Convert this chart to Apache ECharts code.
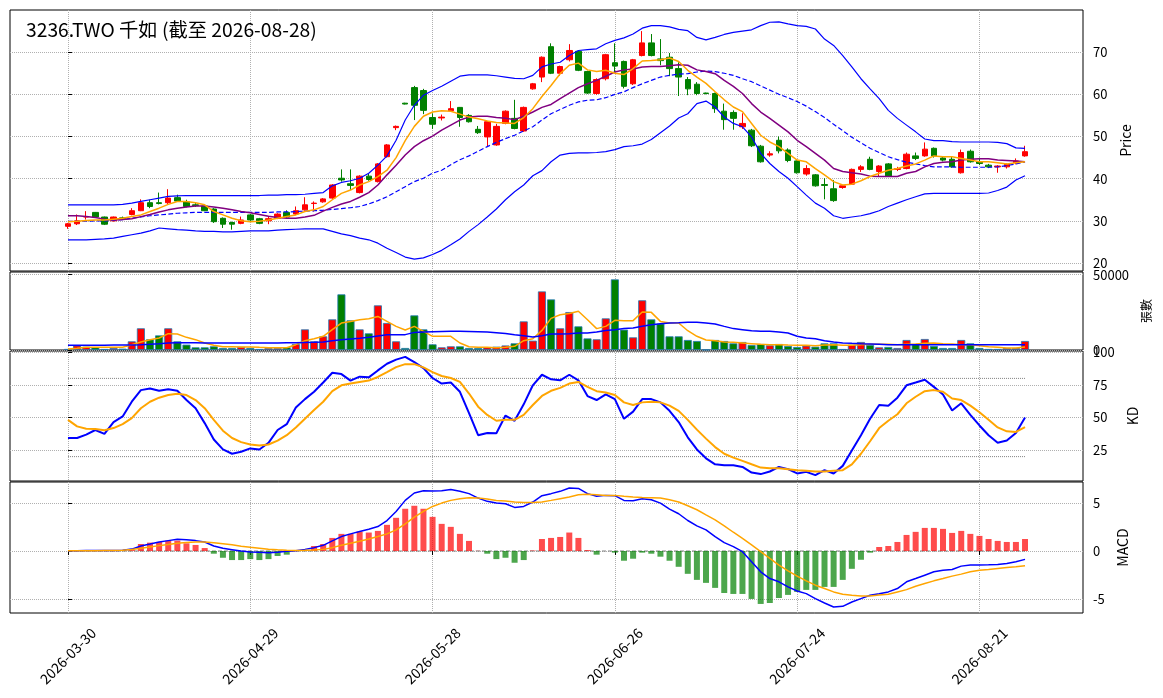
<!DOCTYPE html>
<html>
<head>
<meta charset="utf-8">
<script src="https://cdn.jsdelivr.net/npm/echarts@6/dist/echarts.min.js"></script>
<style>html,body{margin:0;padding:0;background:#fff}#c{width:1163px;height:698px}</style>
</head>
<body>
<div id="c"></div>
<script>
const dates = [
'2026-03-30','2026-03-31','2026-04-01','2026-04-02','2026-04-07','2026-04-08','2026-04-09','2026-04-10','2026-04-13','2026-04-14',
'2026-04-15','2026-04-16','2026-04-17','2026-04-20','2026-04-21','2026-04-22','2026-04-23','2026-04-24','2026-04-27','2026-04-28',
'2026-04-29','2026-04-30','2026-05-04','2026-05-05','2026-05-06','2026-05-07','2026-05-08','2026-05-11','2026-05-12','2026-05-13',
'2026-05-14','2026-05-15','2026-05-18','2026-05-19','2026-05-20','2026-05-21','2026-05-22','2026-05-25','2026-05-26','2026-05-27',
'2026-05-28','2026-05-29','2026-06-01','2026-06-02','2026-06-03','2026-06-04','2026-06-05','2026-06-08','2026-06-09','2026-06-10',
'2026-06-11','2026-06-12','2026-06-15','2026-06-16','2026-06-17','2026-06-18','2026-06-22','2026-06-23','2026-06-24','2026-06-25',
'2026-06-26','2026-06-29','2026-06-30','2026-07-01','2026-07-02','2026-07-03','2026-07-06','2026-07-07','2026-07-08','2026-07-09',
'2026-07-10','2026-07-13','2026-07-14','2026-07-15','2026-07-16','2026-07-17','2026-07-20','2026-07-21','2026-07-22','2026-07-23',
'2026-07-24','2026-07-27','2026-07-28','2026-07-29','2026-07-30','2026-07-31','2026-08-03','2026-08-04','2026-08-05','2026-08-06',
'2026-08-07','2026-08-10','2026-08-11','2026-08-12','2026-08-13','2026-08-14','2026-08-17','2026-08-18','2026-08-19','2026-08-20',
'2026-08-21','2026-08-24','2026-08-25','2026-08-26','2026-08-27','2026-08-28'];

const openP = [
28.7,29.3,30.9,32.0,30.9,30.0,30.7,31.5,32.4,34.3,
34.3,34.3,35.5,34.5,33.8,33.5,32.8,30.6,29.6,29.4,
31.4,30.5,30.0,30.6,32.0,31.6,32.6,34.1,34.5,35.4,
40.1,38.8,36.7,40.6,39.3,45.2,52.1,57.9,61.6,60.9,
54.5,54.4,56.1,56.9,55.0,51.7,49.9,48.0,53.1,54.3,
51.3,61.3,64.1,71.3,65.0,68.2,70.2,65.4,60.2,63.7,
67.5,67.8,62.5,69.2,72.2,68.4,68.8,66.1,63.5,62.4,
60.3,60.2,56.0,55.7,52.3,51.5,47.7,45.6,49.1,46.8,
44.2,41.1,40.9,38.6,37.6,37.9,38.7,42.2,44.6,41.7,
43.5,42.2,42.4,45.4,45.4,47.2,44.9,44.6,41.4,46.5,
44.0,43.2,42.8,42.8,43.8,45.4];
const closeP = [
29.3,30.0,31.0,30.9,29.2,30.9,30.5,32.4,34.3,33.4,
34.1,35.4,34.7,33.4,33.6,32.4,29.8,29.2,29.2,30.2,
30.2,29.4,30.5,31.6,30.9,32.4,33.8,34.2,35.2,38.5,
39.7,38.4,40.6,39.8,43.5,48.0,52.4,57.7,57.4,56.2,
52.9,54.6,56.6,54.5,53.5,50.9,53.5,52.4,56.0,51.9,
56.9,62.5,68.8,65.0,66.6,70.4,65.7,60.3,63.5,69.4,
66.7,61.9,68.2,72.2,69.2,68.0,66.1,64.1,61.3,60.2,
60.2,56.6,54.0,54.3,53.1,47.8,44.0,45.9,46.6,44.3,
41.4,42.4,38.3,38.4,34.8,38.3,42.2,42.8,42.2,43.0,
40.6,42.4,45.8,44.8,47.0,45.4,44.4,42.8,46.2,44.0,
43.6,42.8,43.0,43.4,44.2,46.4];
const lowP = [
28.1,29.0,30.3,30.7,29.0,29.8,30.2,31.3,32.3,33.0,
33.9,34.0,34.5,33.2,33.3,32.3,29.5,28.3,27.9,29.2,
30.0,29.2,29.2,30.4,30.7,31.4,32.4,32.2,34.3,35.2,
39.3,37.3,36.5,39.5,39.1,45.0,51.5,57.6,53.9,55.3,
51.8,53.8,55.9,52.3,53.3,50.6,47.6,47.8,52.9,51.7,
51.1,61.1,62.9,64.8,64.4,67.8,65.5,60.1,59.9,63.3,
65.2,61.4,62.2,69.0,69.0,66.9,64.3,59.6,59.8,59.8,
60.0,55.6,51.6,51.6,51.8,47.5,43.8,45.2,46.0,43.9,
41.2,40.7,38.1,35.1,34.5,37.6,38.5,41.6,42.0,40.5,
40.4,41.8,42.2,44.4,45.2,45.0,44.1,42.6,41.2,43.8,
43.2,42.5,41.4,42.4,43.4,45.2];
const highP = [
29.5,31.5,32.3,32.1,31.0,31.0,31.0,33.0,35.1,35.0,
36.7,37.5,36.2,35.0,34.2,33.6,33.0,30.8,29.8,31.0,
31.6,30.7,30.9,31.8,32.5,33.4,35.6,34.6,35.4,38.7,
42.2,42.2,40.8,41.2,43.7,48.2,52.6,58.0,62.0,61.3,
55.5,55.2,58.4,57.0,55.3,52.5,53.7,53.0,56.2,58.7,
57.1,62.7,69.0,72.1,66.8,71.9,70.5,65.6,63.8,69.6,
72.1,68.0,68.4,75.0,74.3,73.1,69.8,67.6,64.1,62.9,
60.4,60.4,57.8,56.2,55.5,51.8,48.0,46.5,50.0,47.2,
44.4,43.2,41.1,40.1,39.7,38.5,42.4,43.2,45.2,43.2,
43.7,42.8,46.2,46.2,48.6,47.4,45.3,45.2,46.9,46.9,
45.0,43.5,43.2,43.6,44.8,47.8];

const ma5 = [
29.8,29.9,30.1,30.2,30.2,30.4,30.6,31.0,31.4,32.2,
33.0,33.9,34.6,34.6,34.3,33.8,32.2,31.4,30.6,30.0,
29.8,29.9,30.2,30.6,31.0,31.4,32.2,32.6,33.4,35.0,
36.5,37.3,38.5,39.3,40.5,42.0,45.0,49.0,52.4,54.8,
55.8,56.1,56.0,55.3,54.6,54.2,53.7,53.3,53.2,53.1,
54.5,56.6,59.5,62.1,64.9,66.9,67.4,65.8,65.4,65.7,
65.0,64.7,66.1,67.9,68.0,68.2,68.6,67.8,65.7,64.1,
62.6,60.6,58.7,57.0,55.9,53.1,50.3,48.7,47.6,46.0,
44.4,44.0,42.4,40.9,39.3,38.5,38.7,39.5,40.5,41.3,
42.0,42.4,43.0,43.5,44.4,45.4,45.2,45.2,44.8,44.4,
44.0,44.0,43.8,43.5,43.8,44.0];
const ma10 = [
31.2,31.2,31.0,30.8,30.4,30.2,30.3,30.5,31.0,31.5,
32.1,32.6,33.0,33.3,33.5,33.5,33.3,33.0,32.6,32.2,
31.9,31.5,31.1,30.8,30.6,30.6,30.9,31.3,32.3,33.2,
34.0,34.6,35.6,36.7,38.5,40.9,43.2,45.6,47.6,49.0,
50.1,51.5,52.7,53.9,54.6,54.8,54.8,54.5,54.3,54.0,
54.8,55.8,56.9,57.6,59.0,60.3,61.6,62.5,63.3,64.3,
65.3,65.8,66.0,66.5,66.6,66.6,66.8,67.0,66.9,65.8,
65.4,64.9,63.3,61.9,60.2,57.8,55.8,54.3,52.7,51.1,
49.1,47.6,46.0,44.4,42.4,41.7,41.4,41.1,40.6,40.5,
40.5,40.5,41.3,41.7,42.8,43.6,43.9,44.0,44.4,44.6,
44.7,44.7,44.4,44.3,44.2,44.0];
const bbUpper = [
33.8,33.8,33.8,33.8,33.8,33.8,33.9,34.2,34.6,35.0,
35.4,35.8,35.9,36.0,36.0,36.0,36.0,36.0,36.0,36.0,
36.0,36.0,36.1,36.1,36.2,36.2,36.3,36.5,36.7,38.3,
39.1,39.5,40.1,41.3,43.2,45.4,49.1,53.9,57.4,59.8,
60.9,61.9,63.1,64.3,64.6,64.6,64.6,64.4,64.1,63.8,
63.7,64.5,66.5,67.2,67.6,69.2,70.4,70.6,70.8,72.0,
72.8,73.4,74.3,75.7,76.3,76.3,76.0,75.4,75.1,73.5,
72.9,73.5,74.2,74.7,75.0,75.3,76.3,77.1,77.2,76.7,
76.3,76.1,75.5,73.1,71.6,69.2,66.5,63.7,61.3,59.0,
56.2,54.3,52.7,51.1,49.4,49.0,49.0,48.8,48.7,48.7,
48.7,48.7,48.6,48.3,47.3,47.2];
const bbMid = [
29.9,29.9,29.9,30.0,30.0,30.1,30.3,30.6,30.9,31.2,
31.4,31.6,31.8,31.9,32.0,32.0,32.0,32.0,32.0,32.0,
32.0,32.0,32.0,32.1,32.1,32.2,32.3,32.4,32.5,32.7,
32.9,33.1,33.4,34.0,34.8,35.7,36.9,38.1,39.3,40.1,
41.3,42.0,43.3,44.5,45.4,46.5,47.6,48.6,49.5,50.3,
51.3,52.3,53.9,55.4,56.4,57.4,58.2,58.6,58.7,59.2,
60.0,60.6,61.6,62.5,63.3,64.1,64.5,64.8,64.9,65.3,
65.5,65.4,65.0,64.5,63.7,63.0,62.0,61.0,60.0,59.2,
58.3,57.2,55.9,54.5,52.9,51.4,49.8,48.5,47.2,46.2,
45.2,44.5,43.9,43.5,43.1,42.8,42.8,42.8,42.7,42.7,
42.7,42.7,42.8,43.1,43.5,44.0];
const bbLower = [
25.5,25.5,25.5,25.6,25.7,25.9,26.3,26.7,27.1,27.6,
28.3,28.1,27.9,27.8,27.6,27.5,27.5,27.4,27.4,27.5,
27.6,27.6,27.6,27.8,27.9,28.0,28.1,28.1,28.1,27.5,
26.9,26.5,25.9,25.5,24.7,23.5,22.5,21.4,20.9,21.2,
22.0,23.0,24.3,25.7,27.5,29.1,30.9,32.8,35.0,36.9,
38.5,40.7,41.9,44.0,45.6,46.0,46.1,46.1,46.2,46.4,
46.9,47.6,47.8,48.2,49.3,50.9,52.5,54.4,55.4,57.8,
58.4,57.0,54.6,53.1,52.3,49.9,46.0,43.6,41.7,40.1,
38.1,36.1,34.2,33.0,31.2,30.6,30.9,31.2,31.7,32.4,
33.4,34.2,35.0,35.7,36.4,36.5,36.5,36.5,36.5,36.5,
36.5,36.6,37.2,38.0,39.7,40.7];

const volume = [
700,3000,2200,1800,660,1300,900,5750,14400,7100,
9700,14400,5750,3540,1770,1770,2430,1330,1330,2000,
1330,660,1330,1330,1770,3980,13700,5750,9070,20350,
36950,19700,13700,11060,29650,17900,5750,1330,23000,13700,
3760,1770,2430,2430,1330,1330,1770,2200,3000,4420,
19000,6200,38900,33600,14400,25200,15700,7700,7100,21000,
46900,13500,8400,33000,20350,17500,9070,9070,6640,5970,
200,6640,5970,4420,5300,3300,3980,3100,3980,2650,
2000,2870,2200,4420,4420,660,3540,5300,3300,1770,
2000,1330,6640,3980,7300,2650,1330,1330,6640,4420,
1330,660,660,1330,1330,5970];
const volMa5 = [
660,1200,1770,1770,1770,1770,1770,3540,5300,6860,
7960,10840,10620,8400,6860,4650,3100,2200,2200,2000,
2000,1770,1550,1550,1550,3540,6200,7500,9070,13500,
17900,19000,20100,20800,22300,19000,15700,13300,15700,12400,
9070,9070,9070,4650,2200,1770,1770,1550,1770,2430,
6200,7500,13000,21000,23400,24300,25700,20100,14200,15700,
19700,19500,19500,25200,25000,19000,17900,17900,12800,9100,
6600,6200,5300,5100,4650,4200,3760,3540,3540,3300,
3100,3100,2880,3300,3540,3100,3100,3540,3760,3760,
3760,3540,3760,3980,4420,4650,4200,3980,3540,3540,
2880,2200,1770,1330,1330,2000];
const volMa20 = [
3100,3100,3100,3150,3200,3300,3300,3400,3540,3800,
4200,4650,4800,4800,4750,4650,4650,4650,4650,4650,
4650,4650,4650,4700,4800,4870,5000,5100,5300,6200,
6800,7300,7800,8400,9300,10200,10200,10200,11700,12000,
12200,12300,12400,12400,12300,12200,11950,11500,11000,10200,
9500,8630,9500,10600,10600,10800,11300,11300,11900,13000,
13500,14200,14600,15700,16800,17500,17900,18100,18400,18400,
17900,17300,15700,14200,13500,12800,12400,12400,11900,11300,
9100,8000,7500,6200,5300,4650,4420,4200,4000,3760,
3540,3540,3540,3540,3540,3540,3540,3540,3540,3540,
3540,3540,3540,3540,3540,3540];

const kLine = [
34.3,34.3,36.9,40.4,37.4,46.5,50.8,62.1,71.0,72.2,
70.5,71.7,70.5,63.4,57.1,45.7,33.1,25.5,22.2,23.7,
26.3,25.5,30.6,40.4,44.9,57.6,64.1,69.7,76.8,84.3,
83.3,78.3,81.3,80.8,86.1,91.2,94.4,96.5,92.4,87.9,
80.3,76.0,76.8,69.7,53.3,36.4,38.1,37.9,51.5,47.5,
60.1,74.7,82.8,79.3,78.5,82.8,78.5,66.4,63.4,67.7,
64.1,49.0,54.5,64.1,64.1,61.6,55.1,46.5,34.8,25.5,
18.7,14.1,13.4,13.4,12.1,7.8,6.6,8.6,12.1,10.4,
7.1,8.3,5.8,9.6,7.1,12.9,24.7,36.4,49.0,59.6,
59.1,65.2,74.7,76.8,79.0,73.5,67.7,55.3,60.9,52.0,
43.9,36.4,30.6,32.3,38.1,50.0];
const dLine = [
48.2,43.2,41.4,41.2,40.2,41.9,44.9,49.5,57.1,62.1,
65.2,67.2,68.2,67.2,63.4,57.1,48.2,39.9,34.3,31.1,
29.3,28.5,29.3,32.3,36.4,42.4,49.0,55.8,62.1,70.2,
74.7,76.0,77.3,78.3,81.1,84.8,88.6,90.9,90.9,88.4,
84.8,81.8,80.3,77.3,68.4,58.3,52.0,47.5,48.2,48.2,
52.0,59.6,66.5,70.5,72.7,76.0,77.3,73.5,70.2,69.2,
67.2,61.6,59.6,61.6,62.1,61.6,59.1,55.1,48.2,40.7,
33.8,27.3,22.2,19.2,16.7,14.1,11.6,11.1,11.1,10.4,
9.6,9.1,8.6,8.6,9.1,9.6,14.1,22.2,31.8,41.9,
47.5,52.5,60.9,65.9,70.2,71.0,69.7,64.6,63.4,59.1,
54.0,48.2,42.4,39.4,38.9,42.7];

const dif = [
0.03,0.04,0.05,0.05,0.05,0.05,0.08,0.2,0.52,0.72,
0.94,1.08,1.22,1.18,1.08,0.94,0.52,0.28,0.14,0.0,
-0.1,-0.14,-0.17,-0.14,-0.03,0.03,0.17,0.35,0.59,1.05,
1.5,1.78,2.02,2.26,2.54,3.17,4.11,5.26,6.03,6.27,
6.24,6.27,6.38,6.2,5.96,5.5,5.16,4.98,4.91,4.53,
4.63,5.09,5.75,5.96,6.2,6.55,6.5,5.96,5.68,5.78,
5.75,5.26,5.23,5.44,5.33,4.98,4.36,3.87,3.17,2.61,
2.2,1.5,0.87,0.45,-0.07,-1.11,-2.16,-2.86,-3.2,-3.73,
-4.15,-4.43,-4.95,-5.4,-5.82,-5.75,-5.3,-4.95,-4.6,-4.43,
-4.25,-3.9,-3.2,-2.86,-2.51,-2.16,-1.99,-1.92,-1.57,-1.46,
-1.46,-1.43,-1.39,-1.29,-1.11,-0.87];
const dea = [
0.03,0.03,0.04,0.04,0.05,0.06,0.08,0.15,0.28,0.42,
0.56,0.68,0.8,0.88,0.93,0.94,0.85,0.75,0.64,0.5,
0.38,0.28,0.18,0.12,0.07,0.05,0.07,0.1,0.17,0.35,
0.6,0.8,1.01,1.25,1.5,1.78,2.19,2.82,3.52,4.11,
4.63,4.98,5.26,5.43,5.54,5.5,5.4,5.26,5.19,5.09,
5.05,5.05,5.1,5.26,5.44,5.61,5.85,5.89,5.85,5.78,
5.78,5.68,5.61,5.57,5.54,5.5,5.33,5.09,4.7,4.29,
3.76,3.24,2.61,1.95,1.32,0.63,-0.07,-0.77,-1.46,-2.06,
-2.61,-3.1,-3.55,-3.9,-4.25,-4.5,-4.6,-4.67,-4.67,-4.56,
-4.5,-4.25,-4.01,-3.66,-3.38,-3.1,-2.86,-2.61,-2.4,-2.16,
-1.99,-1.92,-1.81,-1.71,-1.64,-1.53];
const macdHist = [
0.0,0.01,0.01,0.01,0.0,0.0,0.02,0.1,0.73,0.87,
0.94,1.08,1.08,0.8,0.63,0.31,-0.28,-0.70,-0.94,-0.94,
-0.84,-0.94,-0.84,-0.52,-0.38,0.05,0.1,0.52,0.73,1.36,
1.78,1.78,2.02,1.92,2.09,2.72,3.45,4.39,4.70,4.39,
3.55,2.82,2.51,1.78,1.05,0.02,-0.28,-0.84,-0.70,-1.22,
-0.94,0.05,1.25,1.36,1.46,1.92,1.36,0.1,-0.38,0.0,
-0.17,-1.01,-0.80,-0.17,-0.28,-0.59,-1.01,-1.64,-2.37,-3.0,
-3.31,-3.83,-4.36,-4.46,-4.46,-4.98,-5.5,-5.4,-4.88,-4.56,
-4.25,-4.04,-4.04,-3.73,-3.73,-3.0,-1.85,-0.91,-0.17,0.42,
0.52,0.94,1.67,1.99,2.40,2.40,2.30,1.88,2.09,1.78,
1.57,1.25,1.05,0.94,0.94,1.25];

const xTickIdx = [0, 20, 40, 60, 80, 100];
const priceTicks = [20, 30, 40, 50, 60, 70];
const volTicks = [0, 50000];
const kdTicks = [25, 50, 75, 100];
const kdRefLevels = [20, 80];
const macdTicks = [-5, 0, 5];
const titleText = '3236.TWO 千如 (截至 2026-08-28)';

const N = dates.length;
const XPAD = 6.36;
const FONT = "'Noto Sans CJK TC','Noto Sans',sans-serif";
const RED = '#ff0000', GREEN = '#008000';
const pairs = arr => arr.map((v, i) => [i, v]);
const gridLine = { show: true, lineStyle: { color: '#b0b0b0', type: 'dotted', width: 1 } };

function mkX(g, bottom) {
  return {
    type: 'value', gridIndex: g, min: -XPAD, max: N - 1 + XPAD,
    axisLine: { show: false },
    axisTick: { show: bottom, customValues: xTickIdx, length: 4, lineStyle: { color: '#000' } },
    axisLabel: { show: bottom, customValues: xTickIdx, rotate: 45, align: 'center', verticalAlign: 'middle',
      margin: 43, fontSize: 14, color: '#000', fontFamily: FONT, formatter: v => dates[Math.round(v)] || '' },
    splitLine: gridLine
  };
}
function mkY(g, min, max, ticks, name, gap, size) {
  return {
    type: 'value', gridIndex: g, position: 'right', min, max,
    axisLine: { show: false },
    axisTick: { show: true, customValues: ticks, length: 4, lineStyle: { color: '#000' } },
    axisLabel: { customValues: ticks, margin: 10, fontSize: 13, color: '#000', fontFamily: FONT,
      formatter: v => String(v) },
    splitLine: gridLine,
    name, nameLocation: 'middle', nameGap: gap,
    nameTextStyle: { fontSize: size, color: '#000', fontFamily: FONT }
  };
}
function line(data, g, color, width, type) {
  return { type: 'line', xAxisIndex: g, yAxisIndex: g, data: pairs(data), showSymbol: false, symbol: 'none',
    lineStyle: { color, width, type: type || 'solid' }, z: 3, silent: true };
}
function refLine(level, g, type) {
  return { type: 'line', xAxisIndex: g, yAxisIndex: g, data: [[0, level], [N - 1, level]], showSymbol: false,
    symbol: 'none', lineStyle: { color: '#808080', width: 1, type }, z: 1, silent: true };
}

const chart = echarts.init(document.getElementById('c'));
chart.setOption({
  animation: false,
  backgroundColor: '#fff',
  graphic: [{ type: 'text', left: 26, top: 20, z: 10,
    style: { text: titleText, font: "19.3px 'Noto Sans CJK TC'", fill: '#000' } }],
  grid: [
    { left: 10, top: 10, width: 1073, height: 261, show: true, borderColor: '#000', borderWidth: 1 },
    { left: 10, top: 272, width: 1073, height: 78, show: true, borderColor: '#000', borderWidth: 1 },
    { left: 10, top: 351, width: 1073, height: 130, show: true, borderColor: '#000', borderWidth: 1 },
    { left: 10, top: 482, width: 1073, height: 131, show: true, borderColor: '#000', borderWidth: 1 }
  ],
  xAxis: [mkX(0, false), mkX(1, false), mkX(2, false), mkX(3, true)],
  yAxis: [
    mkY(0, 18.1, 80.0, priceTicks, 'Price', 27, 14),
    mkY(1, 0, 51800, volTicks, '張數', 52, 12),
    mkY(2, 1.3, 101.0, kdTicks, 'KD', 36, 14),
    mkY(3, -6.44, 7.17, macdTicks, 'MACD', 27, 14)
  ],
  series: [
    { type: 'candlestick', xAxisIndex: 0, yAxisIndex: 0, barWidth: 6, z: 2,
      data: dates.map((d, i) => [i, openP[i], closeP[i], lowP[i], highP[i]]),
      encode: { x: 0, y: [1, 2, 3, 4] },
      itemStyle: { color: RED, color0: GREEN, borderColor: RED, borderColor0: GREEN, borderWidth: 1 } },
    line(bbUpper, 0, '#0000ff', 1.2),
    line(bbLower, 0, '#0000ff', 1.2),
    line(bbMid, 0, '#0000ff', 1.2, 'dashed'),
    line(ma10, 0, '#800080', 1.5),
    line(ma5, 0, '#ffa500', 1.5),
    { type: 'bar', xAxisIndex: 1, yAxisIndex: 1, barWidth: 8, z: 2,
      data: volume.map((v, i) => ({ value: [i, v], itemStyle: { color: closeP[i] >= openP[i] ? RED : GREEN } })),
      itemStyle: { borderColor: '#1f77b4', borderWidth: 0.8 } },
    line(volMa5, 1, '#ffa500', 1.5),
    line(volMa20, 1, '#0000ff', 1.5),
    ...kdRefLevels.map(l => refLine(l, 2, 'dotted')),
    line(kLine, 2, '#0000ff', 2),
    line(dLine, 2, '#ffa500', 2),
    refLine(0, 3, 'dashed'),
    { type: 'bar', xAxisIndex: 3, yAxisIndex: 3, barWidth: 6, z: 2,
      data: macdHist.map((v, i) => ({ value: [i, v], itemStyle: { color: v >= 0 ? 'rgba(255,0,0,0.7)' : 'rgba(0,128,0,0.7)' } })) },
    line(dif, 3, '#0000ff', 1.5),
    line(dea, 3, '#ffa500', 1.5)
  ]
});
</script>
</body>
</html>
